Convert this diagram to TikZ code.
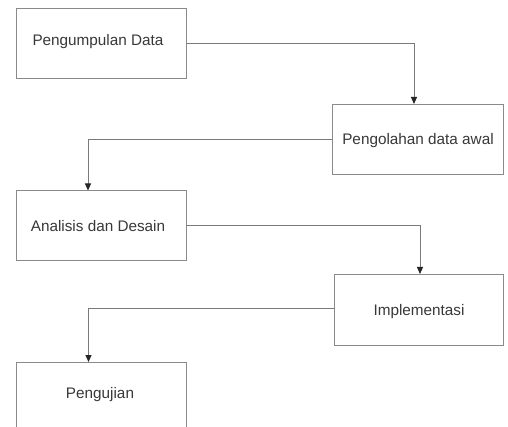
\documentclass[tikz,border=0pt]{standalone}
\usepackage{fontspec}
\setmainfont{Liberation Sans}
\usetikzlibrary{arrows.meta}
\definecolor{boxgray}{HTML}{8A8A8A}
\definecolor{linegray}{HTML}{7A7A7A}
\definecolor{txt}{HTML}{383838}
\begin{document}
\begin{tikzpicture}[x=1pt,y=-1pt,
  stepbox/.style={draw=boxgray,line width=1pt,fill=white,minimum width=170pt,minimum height=70pt,inner sep=0pt,anchor=north west},
  lbl/.style={text=txt,font=\fontsize{15.3}{18}\selectfont},
  conn/.style={draw=linegray,line width=1pt,-{Triangle[width=6pt,length=7pt,color=black!85]}}]
\useasboundingbox (0,0) rectangle (508,427);
\clip (0,0) rectangle (508,427);
\fill[white] (0,0) rectangle (508,427);
\node[stepbox] (b1) at (16,8) {};
\node[lbl] (t1) at (98,42) {Pengumpulan Data};
\node[stepbox,minimum width=171pt] (b2) at (332,104) {};
\node[lbl] (t2) at (418,141) {Pengolahan data awal};
\node[stepbox] (b3) at (16,190.5) {};
\node[lbl] (t3) at (98,226) {Analisis dan Desain};
\node[stepbox,minimum width=169pt,minimum height=71pt] (b4) at (334,274) {};
\node[lbl] (t4) at (419,312) {Implementasi};
\node[stepbox,minimum height=90pt] (b5) at (16,362) {};
\node[lbl] (t5) at (100,395) {Pengujian};
\coordinate (x1) at (414,0);
\coordinate (x2) at (88,0);
\coordinate (x3) at (420,0);
\coordinate (x4) at (88.5,308);
\draw[conn] (b1.east) -- (x1 |- b1.east) -- (x1 |- b2.north);
\draw[conn] (b2.west) -- (x2 |- b2.west) -- (x2 |- b3.north);
\draw[conn] (b3.east) -- (x3 |- b3.east) -- (x3 |- b4.north);
\draw[conn] (b4.west |- x4) -- (x4) -- (x4 |- b5.north);
\end{tikzpicture}
\end{document}
